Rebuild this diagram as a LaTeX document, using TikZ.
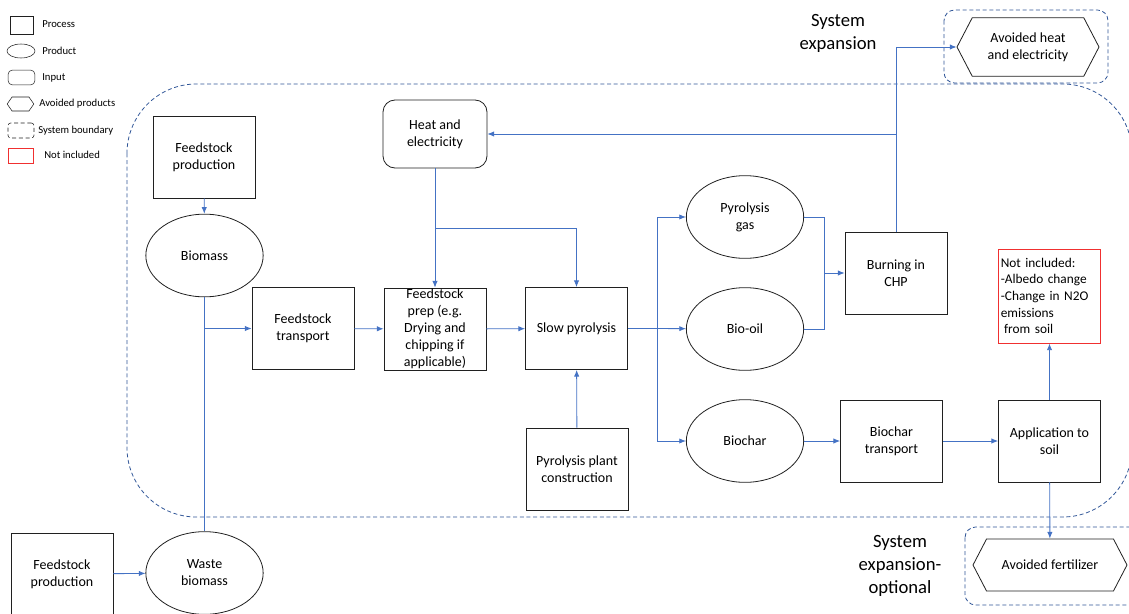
\documentclass[tikz,border=0pt]{standalone}
\usepackage{fontspec}
\setmainfont{Carlito}
\usetikzlibrary{arrows.meta,shapes.geometric,shapes.symbols}
\definecolor{flowblue}{HTML}{4472C4}
\definecolor{boundblue}{HTML}{2F5597}
\definecolor{notred}{HTML}{F03030}
\definecolor{shapegray}{HTML}{202020}

\begin{document}
\begin{tikzpicture}[
	>={Latex[length=5pt,width=4pt]}, 
	x=0.75pt,y=-0.75pt, 
	font=\fontsize{10.5}{12.75}\selectfont,
	process/.style={draw=shapegray, line width=0.6pt, minimum width=76.5pt, minimum height=61.5pt, align=center, inner sep=1pt},
	product/.style={draw=shapegray, line width=0.6pt, ellipse, minimum width=88pt, minimum height=62pt, align=center, inner sep=0pt},
	input/.style={draw=shapegray, line width=0.6pt, rounded corners=9pt, minimum width=78pt, minimum height=51pt, align=center},
	avoided/.style={draw=shapegray, line width=0.6pt, signal, signal to=west and east, signal pointer angle=125, align=center, inner sep=0pt},
	flow/.style={->, flowblue, line width=0.65pt},
	plainflow/.style={flowblue, line width=0.65pt},
	boundary/.style={boundblue, densely dashed, line width=0.6pt},
	legtext/.style={anchor=west, inner sep=0pt, font=\fontsize{8}{9.6}\selectfont}
	]
\useasboundingbox (0,0) rectangle (1129,614);

% legend
\node[draw=shapegray, minimum width=17pt, minimum height=13.5pt, inner sep=0pt] (leg_process) at (21.5,25) {};
\node[draw=shapegray, ellipse, minimum width=21pt, minimum height=10.5pt, inner sep=0pt] (leg_product) at (21,51) {};
\node[draw=shapegray, rounded corners=3pt, minimum width=20pt, minimum height=11pt, inner sep=0pt] (leg_input) at (21.5,77.5) {};
\node[draw=shapegray, signal, signal to=west and east, signal pointer angle=110, minimum width=20pt, minimum height=10.5pt, inner sep=0pt] (leg_avoided) at (20.5,104) {};
\node[draw=shapegray, densely dashed, rounded corners=2pt, minimum width=19.5pt, minimum height=11.25pt, inner sep=0pt] (leg_boundary) at (21,130.5) {};
\node[draw=notred, minimum width=19pt, minimum height=11pt, inner sep=0pt] (leg_notincl) at (20.5,155.5) {};
\node[legtext] (leg_process_txt)  at (42,24) {Process};
\node[legtext] (leg_product_txt)  at (42,51) {Product};
\node[legtext] (leg_input_txt)    at (42,78) {Input};
\node[legtext] (leg_avoided_txt)  at (39,104) {Avoided products};
\node[legtext] (leg_boundary_txt) at (38,131) {System boundary};
\node[legtext] (leg_notincl_txt)  at (44,155) {Not included};

% system boundaries
\draw[boundary, rounded corners=52pt] (127,84) rectangle (1132,517);
\draw[boundary, rounded corners=8pt] (944,10) rectangle (1108,83);
\draw[boundary, rounded corners=8pt] (965,527) rectangle (1142,605);

\node[font=\fontsize{14}{17.25}\selectfont, align=center] (sys_exp) at (838,33) {System\\expansion};
\node[font=\fontsize{14}{17.25}\selectfont, align=center] (sys_exp_opt) at (900,566) {System\\expansion-\\optional};

% nodes
			\node[process] (feed_prod_1)    at (204,157) {Feedstock\\production};
			\node[product] (biomass)        at (204.5,255.5) {Biomass};
			\node[process] (feed_prod_2)    at (62,574) {Feedstock\\production};
			\node[product] (waste_biomass)  at (204.5,573) {Waste\\biomass};
			\node[process] (feed_transport) at (303,328.5) {Feedstock\\transport};
			\node[input]   (heat_elec)      at (435,134) {Heat and\\electricity};
			\node[process, inner sep=0pt] (feed_prep) at (435,329) {Feedstock\\prep (e.g.\\Drying and\\chipping if\\applicable)};
			\node[process] (slow_pyro)      at (576.5,328.5) {Slow pyrolysis};
			\node[process] (plant_constr)   at (577,469) {Pyrolysis plant\\construction};
			\node[product] (pyro_gas)       at (745,217) {Pyrolysis\\gas};
			\node[product] (bio_oil)        at (745,329) {Bio-oil};
			\node[product] (biochar)        at (745,441) {Biochar};
			\node[process] (chp)            at (896,273) {Burning in\\CHP};
			\node[process] (char_transport) at (891.5,441) {Biochar\\transport};
			\node[process] (soil_app)       at (1049.5,441) {Application to\\soil};
			\node[draw=notred, line width=0.75pt, minimum width=77pt, minimum height=70.5pt, text width=73pt, align=left, inner sep=2pt, font=\fontsize{10}{12.5}\selectfont] (not_incl) at (1049.5,296) {Not included:\\-Albedo change\\-Change in N2O\\emissions\\\hspace*{2.5pt}from soil};
			\node[avoided, minimum width=106.5pt, minimum height=44pt] (avoid_heat) at (1028,47) {Avoided heat\\and electricity};
			\node[avoided, minimum width=115.5pt, minimum height=39pt] (avoid_fert) at (1050,565) {Avoided fertilizer};

			\coordinate (heat_split) at (435,228);
			\coordinate (pyro_split) at (657,328.5);
			\coordinate (chp_join)   at (824,273);
			\coordinate (chp_heat)   at (896,134);

% connectors
			\draw[flow] (feed_prod_1) -- (biomass);
			\draw[plainflow] (biomass) -- (waste_biomass);
			\draw[flow] (biomass.south |- feed_transport) -- (feed_transport);
			\draw[flow] (feed_prod_2) -- (waste_biomass);
			\draw[flow] (feed_transport) -- (feed_prep);
			\draw[flow] (feed_prep) -- (slow_pyro);
			\draw[flow] (heat_elec) -- (feed_prep);
			\draw[flow] (heat_split) -| (slow_pyro);
			\draw[flow] (plant_constr) -- (slow_pyro);
			\draw[plainflow] (slow_pyro) -- (pyro_split);
			\draw[flow] (pyro_split) |- (pyro_gas);
			\draw[flow] (pyro_split) -- (bio_oil);
			\draw[flow] (pyro_split) |- (biochar);
			\draw[plainflow] (pyro_gas) -| (chp_join);
			\draw[plainflow] (bio_oil) -| (chp_join);
			\draw[flow] (chp_join) -- (chp);
			\draw[flow] (chp) |- (avoid_heat);
			\draw[flow] (chp_heat) -- (heat_elec);
			\draw[flow] (biochar) -- (char_transport);
			\draw[flow] (char_transport) -- (soil_app);
			\draw[flow] (soil_app) -- (not_incl);
			\draw[flow] (soil_app) -- (avoid_fert);

\end{tikzpicture}
\end{document}
